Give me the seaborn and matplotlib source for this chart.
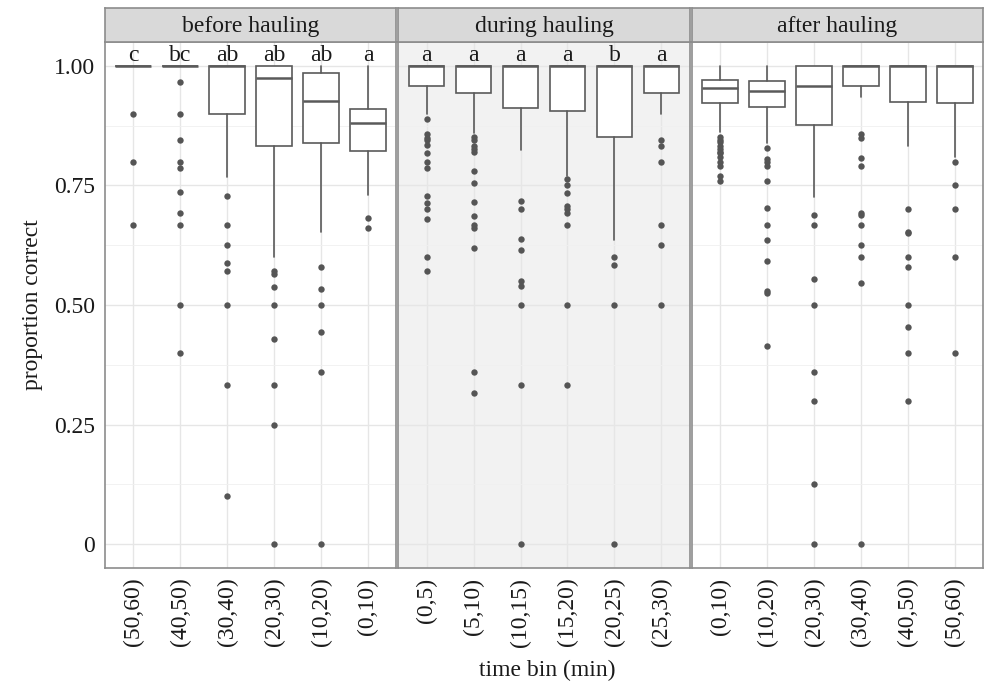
import pandas as pd
import matplotlib
matplotlib.use("Agg")
import matplotlib.pyplot as plt
import seaborn as sns

sns.set_theme(style="whitegrid")
plt.rcParams["font.family"] = ["Liberation Serif", "DejaVu Serif"]

panels = ["before hauling", "during hauling", "after hauling"]

before_bins = ["(50,60)", "(40,50)", "(30,40)", "(20,30)", "(10,20)", "(0,10)"]
during_bins = ["(0,5)", "(5,10)", "(10,15)", "(15,20)", "(20,25)", "(25,30)"]
after_bins = ["(0,10)", "(10,20)", "(20,30)", "(30,40)", "(40,50)", "(50,60)"]

# box summaries: lower whisker, q1, median, q3, upper whisker
before_whislo = [1.0, 1.0, 0.767, 0.60, 0.653, 0.729]
before_q1 = [1.0, 1.0, 0.90, 0.833, 0.839, 0.823]
before_med = [1.0, 1.0, 1.0, 0.975, 0.927, 0.881]
before_q3 = [1.0, 1.0, 1.0, 1.0, 0.986, 0.91]
before_whishi = [1.0, 1.0, 1.0, 1.0, 1.0, 1.0]
before_outliers = [
    [0.9, 0.8, 0.667],
    [0.966, 0.9, 0.846, 0.8, 0.786, 0.737, 0.692, 0.667, 0.5, 0.4],
    [0.727, 0.667, 0.625, 0.588, 0.571, 0.5, 0.333, 0.1],
    [0.571, 0.565, 0.538, 0.5, 0.429, 0.333, 0.25, 0.0],
    [0.58, 0.533, 0.5, 0.444, 0.36, 0.0],
    [0.682, 0.66],
]
before_letters = ["c", "bc", "ab", "ab", "ab", "a"]

during_whislo = [0.90, 0.86, 0.825, 0.77, 0.635, 0.90]
during_q1 = [0.958, 0.943, 0.912, 0.906, 0.852, 0.944]
during_med = [1.0, 1.0, 1.0, 1.0, 1.0, 1.0]
during_q3 = [1.0, 1.0, 1.0, 1.0, 1.0, 1.0]
during_whishi = [1.0, 1.0, 1.0, 1.0, 1.0, 1.0]
during_outliers = [
    [0.889, 0.857, 0.85, 0.846, 0.835, 0.817, 0.8, 0.786, 0.727, 0.714, 0.7, 0.68, 0.6, 0.572],
    [0.852, 0.846, 0.833, 0.826, 0.82, 0.78, 0.756, 0.716, 0.687, 0.667, 0.66, 0.62, 0.36, 0.316],
    [0.718, 0.7, 0.639, 0.614, 0.551, 0.539, 0.5, 0.333, 0.0],
    [0.764, 0.75, 0.735, 0.708, 0.7, 0.692, 0.667, 0.5, 0.333],
    [0.6, 0.583, 0.5, 0.0],
    [0.846, 0.833, 0.8, 0.667, 0.625, 0.5],
]
during_letters = ["a", "a", "a", "a", "b", "a"]

after_whislo = [0.862, 0.839, 0.726, 0.936, 0.833, 0.81]
after_q1 = [0.923, 0.914, 0.877, 0.957, 0.925, 0.923]
after_med = [0.954, 0.948, 0.959, 1.0, 1.0, 1.0]
after_q3 = [0.971, 0.969, 1.0, 1.0, 1.0, 1.0]
after_whishi = [1.0, 1.0, 1.0, 1.0, 1.0, 1.0]
after_outliers = [
    [0.852, 0.846, 0.84, 0.833, 0.826, 0.82, 0.818, 0.81, 0.8, 0.79, 0.77, 0.76],
    [0.828, 0.806, 0.8, 0.79, 0.76, 0.703, 0.667, 0.636, 0.593, 0.53, 0.525, 0.415],
    [0.688, 0.667, 0.555, 0.5, 0.36, 0.3, 0.125, 0.0],
    [0.857, 0.85, 0.808, 0.79, 0.692, 0.688, 0.667, 0.625, 0.6, 0.545, 0.0],
    [0.7, 0.652, 0.65, 0.6, 0.58, 0.5, 0.454, 0.4, 0.3],
    [0.8, 0.75, 0.7, 0.6, 0.4],
]
after_letters = ["", "", "", "", "", ""]

panel_data = [
    (before_bins, before_whislo, before_q1, before_med, before_q3, before_whishi, before_outliers, before_letters),
    (during_bins, during_whislo, during_q1, during_med, during_q3, during_whishi, during_outliers, during_letters),
    (after_bins, after_whislo, after_q1, after_med, after_q3, after_whishi, after_outliers, after_letters),
]
panel_colors = ["white", "#f2f2f2", "white"]

line_col = "#5a5a5a"
border_col = "#8c8c8c"
text_col = "#1a1a1a"
fs = 17

fig, axes = plt.subplots(1, 3, figsize=(9.85, 6.84), dpi=100, sharey=True)
fig.subplots_adjust(left=0.1066, right=0.998, bottom=0.1696, top=0.9386, wspace=0.008)

for ax, title, data, face in zip(axes, panels, panel_data, panel_colors):
    bins, wlo, q1, med, q3, whi, outs, letters = data
    stats = []
    for i in range(len(bins)):
        stats.append({"whislo": wlo[i], "q1": q1[i], "med": med[i], "q3": q3[i],
                      "whishi": whi[i], "fliers": [], "label": bins[i]})
    ax.set_facecolor(face)
    ax.bxp(stats, positions=range(len(bins)), widths=0.76, showcaps=False,
           patch_artist=True,
           boxprops=dict(facecolor="white", edgecolor=line_col, linewidth=1.2),
           whiskerprops=dict(color=line_col, linewidth=1.2),
           medianprops=dict(color=line_col, linewidth=1.8),
           zorder=3)

    # outliers
    rows = []
    for b, vals in zip(bins, outs):
        for v in vals:
            rows.append({"bin": b, "value": v})
    df = pd.DataFrame(rows)
    sns.stripplot(data=df, x="bin", y="value", order=bins, jitter=False, ax=ax,
                  color="#555555", size=4.6, linewidth=0, zorder=4)

    for i, lab in enumerate(letters):
        if lab:
            ax.text(i, 1.01, lab, ha="center", va="baseline", fontsize=fs, color=text_col)

    ax.set_xlim(-0.6, len(bins) - 0.4)
    ax.set_ylim(-0.05, 1.05)
    ax.set_xticks(range(len(bins)))
    ax.set_xticklabels(bins, rotation=90, ha="center", va="top")
    ax.set_yticks([0, 0.25, 0.5, 0.75, 1.0])
    ax.set_yticks([0.125, 0.375, 0.625, 0.875], minor=True)
    ax.set_yticklabels(["0", "0.25", "0.50", "0.75", "1.00"])
    ax.grid(True, which="major", color="#e6e6e6", linewidth=1.0)
    ax.grid(True, which="minor", axis="y", color="#f0f0f0", linewidth=0.6)
    ax.set_axisbelow(True)
    ax.tick_params(axis="both", which="major", length=4, width=0.8, color=border_col,
                   labelsize=fs, labelcolor=text_col, pad=3)
    ax.tick_params(axis="y", which="minor", length=0)
    ax.set_xlabel("")
    ax.set_ylabel("")
    for s in ax.spines.values():
        s.set_visible(True)
        s.set_color(border_col)
        s.set_linewidth(1.2)

    # facet strip
    pos = ax.get_position()
    sax = fig.add_axes([pos.x0, pos.y1, pos.width, 0.988 - pos.y1])
    sax.set_facecolor("#d9d9d9")
    sax.set_xticks([])
    sax.set_yticks([])
    sax.grid(False)
    for s in sax.spines.values():
        s.set_visible(True)
        s.set_color(border_col)
        s.set_linewidth(1.2)
    sax.text(0.5, 0.45, title, ha="center", va="center", fontsize=fs,
             color=text_col, transform=sax.transAxes)

axes[1].tick_params(axis="y", which="major", length=0)
axes[2].tick_params(axis="y", which="major", length=0)
axes[0].set_ylabel("proportion correct", fontsize=fs, color=text_col, labelpad=8)
fig.text(0.556, 0.004, "time bin (min)", ha="center", va="bottom", fontsize=fs, color=text_col)

fig.savefig("out.png", dpi=100)
